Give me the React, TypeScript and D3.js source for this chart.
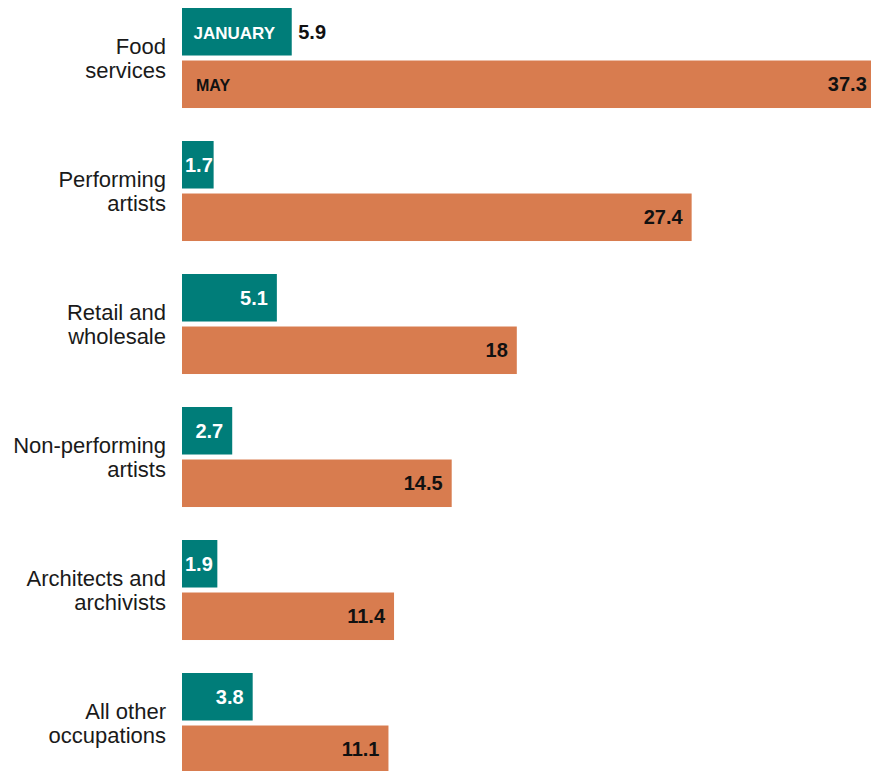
import React from "react";
import * as d3 from "d3";

const categories = [
  ["Food", "services"],
  ["Performing", "artists"],
  ["Retail and", "wholesale"],
  ["Non-performing", "artists"],
  ["Architects and", "archivists"],
  ["All other", "occupations"],
];
const january = [5.9, 1.7, 5.1, 2.7, 1.9, 3.8];
const may = [37.3, 27.4, 18, 14.5, 11.4, 11.1];
const seriesNames = ["JANUARY", "MAY"];

const W = 871;
const H = 771;
const TEAL = "#007d79";
const ORANGE = "#d87c4f";
const FONT = "'Liberation Sans', Arial, Helvetica, sans-serif";

function textW(s: string, size: number) {
  let u = 0;
  for (const c of s) u += c === "." ? 278 : 556;
  return (u / 1000) * size;
}

export default function App() {
  const keys = categories.map((c) => c.join(" "));
  const pad = 0.248;
  const step = 133;
  const y = d3
    .scaleBand<string>()
    .domain(keys)
    .range([8, 8 + step * (keys.length - pad)])
    .paddingInner(pad)
    .paddingOuter(0);
  const ys = d3.scaleBand<string>().domain(["jan", "may"]).range([0, y.bandwidth()]).paddingInner(0.0952);
  const x = d3.scaleLinear().domain([0, 1]).range([182, 182 + 18.6]);

  const numSize = 20;

  return (
    <svg
      width={W}
      height={H}
      style={{ position: "absolute", left: 0, top: 0, overflow: "hidden", background: "#fff" }}
    >
      {categories.map((lines, i) => {
        const key = keys[i];
        const gy = y(key)!;
        const rows = [
          { k: "jan", v: january[i], fill: TEAL, tc: "#ffffff" },
          { k: "may", v: may[i], fill: ORANGE, tc: "#111111" },
        ];
        return (
          <g key={key}>
            {lines.map((l, j) => (
              <text
                key={j}
                x={166}
                y={gy + 46 + j * 23.5}
                textAnchor="end"
                fontFamily={FONT}
                fontSize={22}
                fill="#1a1a1a"
              >
                {l}
              </text>
            ))}
            {rows.map((r, ri) => {
              const by = gy + ys(r.k)!;
              const bh = ys.bandwidth();
              const x0 = x(0);
              const x1 = x(r.v);
              const label = String(r.v);
              const tw = textW(label, numSize);
              const isFirst = i === 0;
              let lx: number;
              let anchor = "end";
              let color = r.tc;
              if (isFirst && r.k === "jan") {
                lx = x1 + 6.5;
                anchor = "start";
                color = "#111111";
              } else if (x1 - 9 - tw < x0 + 3) {
                lx = x0 + 3;
                anchor = "start";
              } else {
                lx = x1 - 9;
              }
              return (
                <g key={r.k}>
                  <rect x={x0} y={by} width={x1 - x0} height={bh} fill={r.fill} />
                  <text
                    x={lx}
                    y={by + bh / 2}
                    dy="0.35em"
                    textAnchor={anchor}
                    fontFamily={FONT}
                    fontWeight="bold"
                    fontSize={numSize}
                    fill={color}
                  >
                    {label}
                  </text>
                  {isFirst && (
                    <text
                      x={x0 + (ri === 0 ? 11.5 : 14)}
                      y={by + bh / 2 + 1.5}
                      dy="0.35em"
                      fontFamily={FONT}
                      fontWeight="bold"
                      fontSize={ri === 0 ? 17 : 16}
                      fill={ri === 0 ? "#ffffff" : "#111111"}
                    >
                      {seriesNames[ri]}
                    </text>
                  )}
                </g>
              );
            })}
          </g>
        );
      })}
    </svg>
  );
}
